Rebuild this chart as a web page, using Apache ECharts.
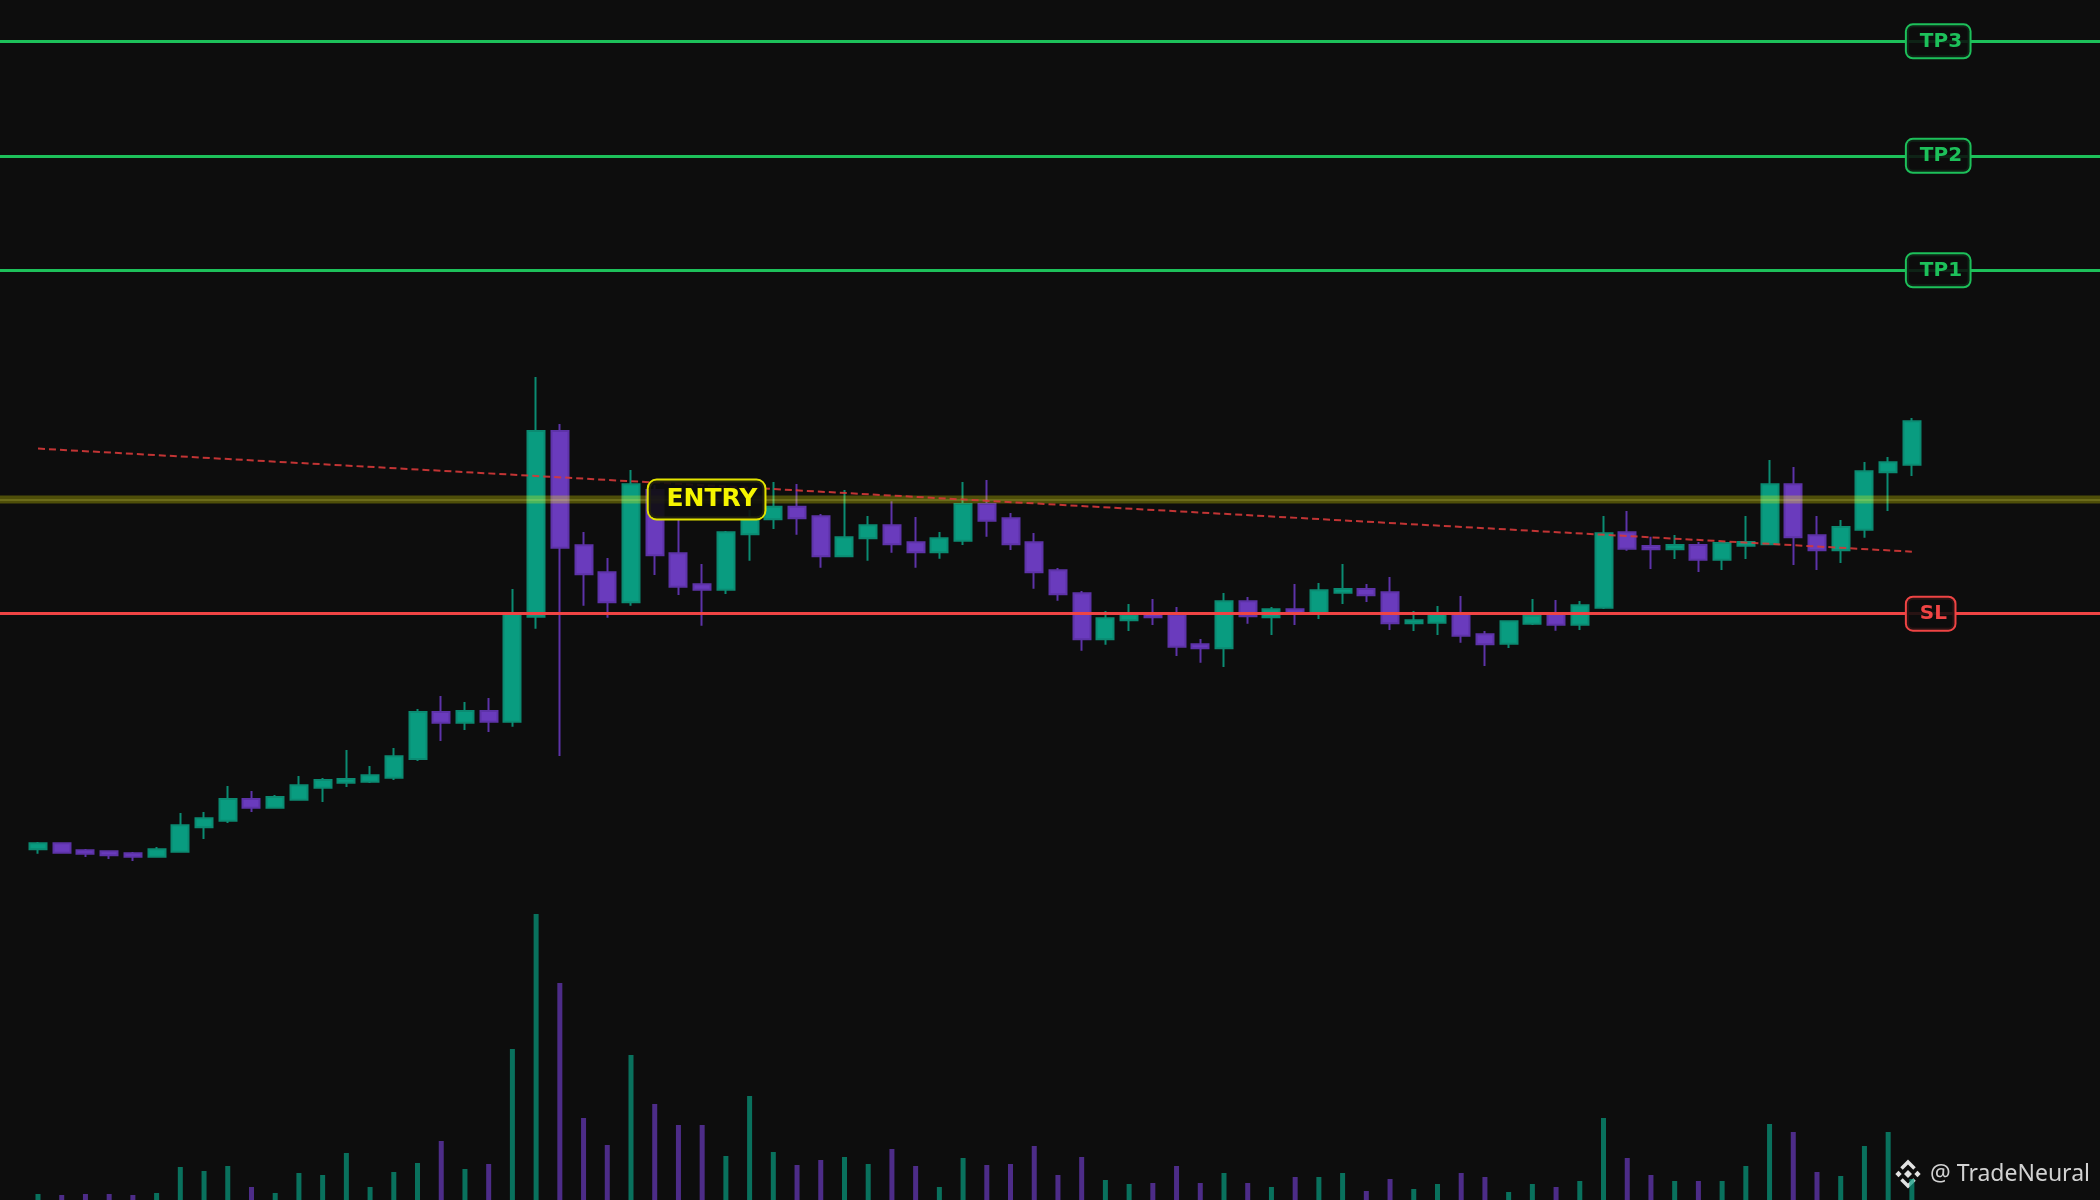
<!DOCTYPE html>
<html>
<head>
<meta charset="utf-8">
<script src="https://cdn.jsdelivr.net/npm/echarts@6/dist/echarts.min.js"></script>
<style>
html,body{margin:0;padding:0;background:#0d0d0d;}
#c{width:2100px;height:1200px;}
</style>
</head>
<body>
<div id="c"></div>
<script>
// ---- data ----
const opens = [35.07,35.67,34.97,34.87,34.67,34.33,34.83,37.27,37.93,40.10,
  39.23,40.03,41.23,41.73,41.83,42.23,44.10,48.80,47.73,48.90,
  47.83,58.33,76.90,65.47,62.77,59.77,71.00,64.67,61.57,61.03,
  66.57,68.07,69.33,68.37,64.37,66.17,67.47,65.77,64.77,65.93,
  69.60,68.17,65.77,62.97,60.67,56.07,57.97,58.60,58.54,55.57,
  55.17,59.87,58.27,59.07,58.60,60.73,61.10,60.77,57.67,57.73,
  58.60,56.57,55.63,57.63,58.63,57.53,59.23,66.77,65.40,65.07,
  65.50,64.03,65.43,65.57,71.57,66.47,64.97,67.03,72.77,73.53];
const closes = [35.67,34.73,34.63,34.47,34.33,35.07,37.47,38.17,40.10,39.23,
  40.30,41.47,42.00,42.10,42.47,44.37,48.80,47.73,48.90,47.83,
  58.60,76.90,65.23,62.57,59.77,71.57,64.47,61.33,61.03,66.77,
  68.15,69.33,68.17,64.37,66.27,67.47,65.57,64.77,66.17,69.60,
  67.93,65.57,62.77,60.57,56.07,58.17,58.55,58.27,55.33,55.17,
  59.87,58.37,59.07,58.60,60.97,61.10,60.47,57.67,57.97,58.60,
  56.43,55.57,57.87,58.43,57.53,59.47,66.67,65.13,65.07,65.50,
  64.03,65.70,65.80,71.57,66.27,64.97,67.30,72.87,73.77,77.87];
const lows = [34.63,34.63,34.30,34.10,33.90,34.30,34.80,36.10,37.70,38.80,
  39.20,40.00,39.80,41.30,41.70,42.00,43.90,45.90,47.00,46.80,
  47.33,57.13,44.40,59.43,58.23,59.43,62.50,60.50,57.43,60.60,
  63.93,67.10,66.53,63.23,64.35,63.93,64.73,63.23,64.13,65.50,
  66.33,65.00,61.13,59.93,54.93,55.53,56.90,57.50,54.40,53.73,
  53.30,57.63,56.50,57.50,58.10,59.60,59.80,57.00,56.90,56.50,
  55.73,53.40,55.20,57.50,56.93,57.00,59.10,64.93,63.10,64.10,
  62.80,63.00,64.10,65.55,63.50,63.00,63.70,66.23,68.90,72.40];
const highs = [35.80,35.70,35.10,34.90,34.80,35.30,38.70,38.80,41.40,40.90,
  40.50,42.40,42.20,45.00,43.40,45.20,49.10,50.40,49.80,50.20,
  61.10,82.30,77.60,66.80,64.20,73.00,71.50,68.30,63.60,66.90,
  69.00,71.80,71.60,68.60,71.00,68.40,69.87,68.30,66.80,71.80,
  72.00,68.70,66.70,63.20,60.90,58.90,59.60,60.10,59.30,56.10,
  60.70,60.30,59.30,61.60,61.70,63.60,61.60,62.30,58.90,59.40,
  60.40,56.90,57.90,60.10,60.00,59.90,68.40,68.90,66.33,66.50,
  65.80,65.80,68.40,74.00,73.30,68.40,68.00,73.80,74.30,78.20];
const volumes = [6,5,6,6,5,7,33,29,34,13,
  7,27,25,47,13,28,37,59,31,36,
  151,286,217,82,55,145,96,75,75,44,
  104,48,35,40,43,36,51,34,13,42,
  35,36,54,25,43,20,16,17,34,17,
  27,17,13,23,23,27,9,21,11,16,
  27,23,8,16,13,19,82,42,25,19,
  19,19,34,76,68,28,24,54,68,21];

const levelNames = [' TP3', ' TP2', ' TP1', ' SL'];
const levelValues = [115.87, 104.42, 92.97, 58.63];
const entryPrice = 70.05;
const entryIndex = 26;
const labelIndex = 79;
const trendStart = [0, 75.14];
const trendEnd = [79, 64.83];

// ---- styles ----
const UP = '#099c80', UP_B = '#0b8b72';
const DN = '#6a3bbd', DN_B = '#5d33a8';
const TP_C = '#1dc05a', SL_C = '#ef4444', EN_C = '#f5f500';
const FONT = 'DejaVu Sans';

const candleData = opens.map((o, i) => [i, o, closes[i], lows[i], highs[i]]);
const volData = volumes.map((v, i) => ({
  value: [i, v],
  itemStyle: { color: closes[i] >= opens[i] ? 'rgba(9,156,128,0.7)' : 'rgba(106,59,189,0.7)' }
}));

const levelLines = levelValues.map((v, k) => ({
  yAxis: v,
  lineStyle: { color: levelNames[k].trim() === 'SL' ? SL_C : TP_C, width: 3, type: 'solid' }
}));

const levelLabels = levelValues.map((v, k) => {
  const c = levelNames[k].trim() === 'SL' ? SL_C : TP_C;
  return {
    coord: [labelIndex, v],
    label: {
      show: true, position: 'inside', align: 'left', verticalAlign: 'middle',
      offset: [-5, 0],
      formatter: levelNames[k], color: c, fontFamily: FONT, fontWeight: 'bold',
      fontSize: 20, lineHeight: 20,
      backgroundColor: 'rgba(13,13,13,0.88)', borderColor: c, borderWidth: 2,
      borderRadius: 6, padding: [6, 7.5, 6, 6]
    }
  };
});

const entryLabel = {
  coord: [entryIndex, entryPrice],
  label: {
    show: true, position: 'inside', align: 'left', verticalAlign: 'middle',
    offset: [-6, 0],
    formatter: ' ENTRY', color: EN_C, fontFamily: FONT, fontWeight: 'bold',
    fontSize: 25, lineHeight: 24,
    backgroundColor: 'rgba(13,13,13,0.9)', borderColor: '#e3e300', borderWidth: 2,
    borderRadius: 8, padding: [7, 7, 7, 9]
  }
};

const chart = echarts.init(document.getElementById('c'), null, { renderer: 'canvas' });
chart.setOption({
  backgroundColor: '#0d0d0d',
  animation: false,
  grid: [
    { left: 0, right: 0, top: 0, bottom: 0 },
    { left: 0, right: 0, top: 900, bottom: 0 }
  ],
  xAxis: [
    { gridIndex: 0, type: 'value', min: -1.602, max: 86.931, show: false },
    { gridIndex: 1, type: 'value', min: -1.602, max: 86.931, show: false }
  ],
  yAxis: [
    { gridIndex: 0, type: 'value', min: 0, max: 120, show: false },
    { gridIndex: 1, type: 'value', min: 0, max: 300, show: false }
  ],
  series: [
    {
      type: 'bar', xAxisIndex: 1, yAxisIndex: 1, barWidth: 5, z: 1,
      data: volData, silent: true
    },
    {
      type: 'candlestick', xAxisIndex: 0, yAxisIndex: 0, barWidth: 17.5, z: 2,
      silent: true,
      itemStyle: { color: UP, color0: DN, borderColor: UP_B, borderColor0: DN_B, borderWidth: 2 },
      data: candleData,
      markArea: {
        silent: true, z: 3,
        itemStyle: { color: 'rgba(255,255,0,0.27)' },
        data: [[{ yAxis: entryPrice + 0.4 }, { yAxis: entryPrice - 0.4 }]]
      },
      markLine: {
        silent: true, z: 5, symbol: ['none', 'none'], label: { show: false },
        data: levelLines.concat([
          { yAxis: entryPrice, lineStyle: { color: 'rgba(255,255,120,0.22)', width: 1.5, type: 'solid' } },
          [
            { coord: trendStart, lineStyle: { color: 'rgba(214,56,56,0.9)', width: 2, type: [7, 4] } },
            { coord: trendEnd }
          ]
        ])
      },
      markPoint: {
        silent: true, z: 10, symbol: 'rect', symbolSize: 1,
        itemStyle: { color: 'rgba(0,0,0,0)' },
        data: levelLabels.concat([entryLabel])
      }
    }
  ],
  graphic: [
    {
      type: 'group', z: 100, silent: true,
      children: [
        { type: 'polygon', shape: { points: [[1908,1170],[1912,1174],[1908,1178],[1904,1174]] }, style: { fill: '#e2e2e2' } },
        { type: 'polygon', shape: { points: [[1898.5,1170.8],[1901.7,1174],[1898.5,1177.2],[1895.3,1174]] }, style: { fill: '#e2e2e2' } },
        { type: 'polygon', shape: { points: [[1917.5,1170.8],[1920.7,1174],[1917.5,1177.2],[1914.3,1174]] }, style: { fill: '#e2e2e2' } },
        { type: 'polyline', shape: { points: [[1901.5,1168.5],[1908,1162],[1914.5,1168.5]] }, style: { stroke: '#e2e2e2', lineWidth: 3.5, fill: null } },
        { type: 'polyline', shape: { points: [[1901.5,1179.5],[1908,1186],[1914.5,1179.5]] }, style: { stroke: '#e2e2e2', lineWidth: 3.5, fill: null } },
        { type: 'text', x: 2090, y: 1174, style: { text: '@ TradeNeural', fill: '#d2d2d2', font: '23px "Noto Sans"', align: 'right', verticalAlign: 'middle' } }
      ]
    }
  ]
});
</script>
</body>
</html>
